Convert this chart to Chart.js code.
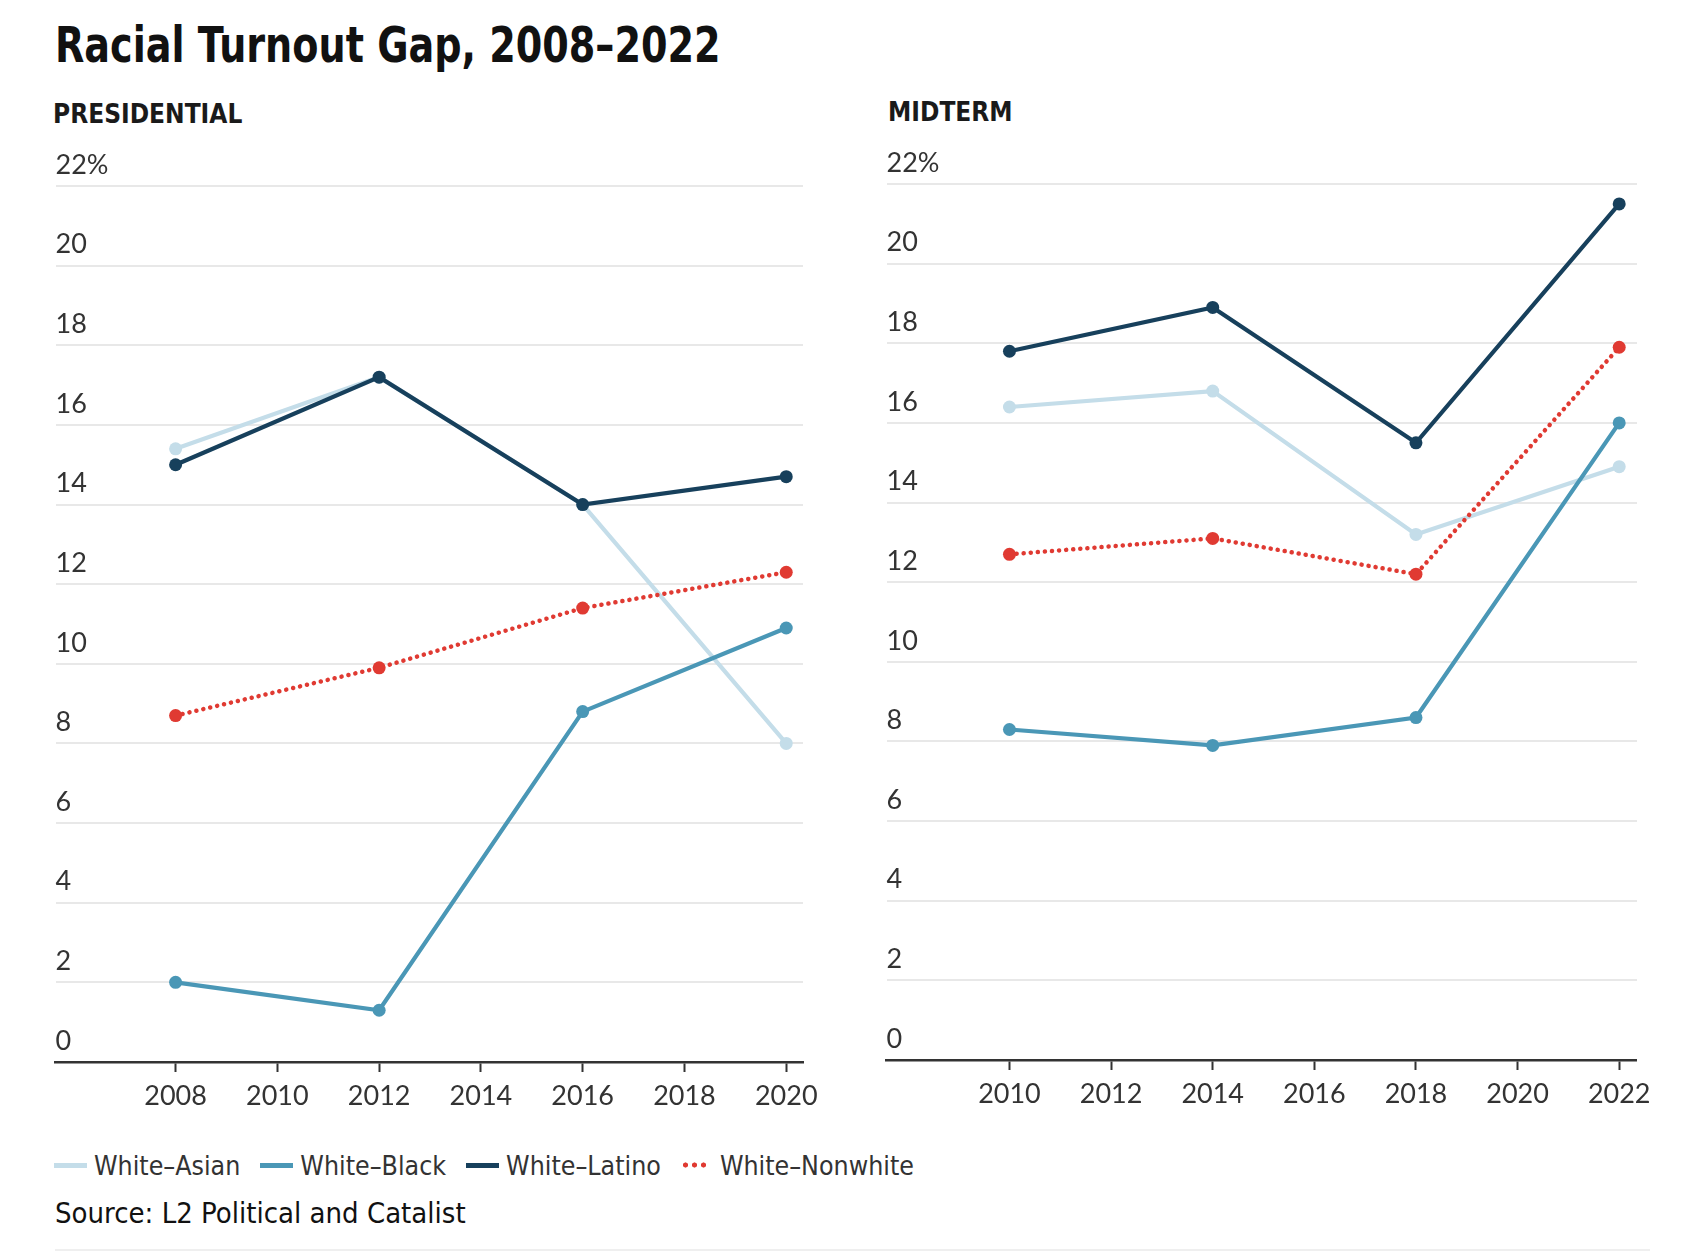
<!DOCTYPE html>
<html>
<head>
<meta charset="utf-8">
<script src="https://cdn.jsdelivr.net/npm/chart.js@4.4.1/dist/chart.umd.min.js"></script>
<style>
  html, body { margin: 0; padding: 0; background: #fff; }
  body { width: 1706px; height: 1252px; position: relative; overflow: hidden; }
  .narrow { font-family: "Liberation Sans Narrow", "DejaVu Sans Condensed", "Liberation Sans", sans-serif; }
  #title { position: absolute; left: 55px; top: 17px; font-size: 49px; font-weight: bold; color: #111; white-space: nowrap;
    transform: scaleX(0.865); transform-origin: left top; }
  .panel-title { position: absolute; font-size: 26px; font-weight: bold; color: #1a1a1a; white-space: nowrap; }
  .chart-box { position: absolute; }
  .chart-box canvas { display: block; }
  #legend { position: absolute; left: 54px; top: 1146px; height: 38px; display: flex; align-items: center; font-size: 26.5px; color: #333; white-space: nowrap; }
  #legend .item { display: flex; align-items: center; margin-right: 20px; }
  #legend .swatch { width: 33px; height: 5px; margin-right: 7px; }
  #legend .dots { width: 28px; height: 6px; margin-right: 11px;
    background-image: radial-gradient(circle, #e03a32 2.3px, transparent 2.8px);
    background-size: 9px 6px; background-repeat: repeat-x; }
  #source { position: absolute; left: 55px; top: 1196px; font-size: 29px; color: #111; white-space: nowrap; }
  #rule { position: absolute; left: 55px; top: 1249px; width: 1595px; height: 2px; background: #efefef; }
</style>
</head>
<body>
<div id="title" class="narrow">Racial Turnout Gap, 2008–2022</div>
<div class="panel-title narrow" style="left:53px; top:99px;">PRESIDENTIAL</div>
<div class="panel-title narrow" style="left:888px; top:97px;">MIDTERM</div>

<div class="chart-box" style="left:49px; top:140px; width:777px; height:1000px;">
  <canvas id="presChart" width="777" height="1000"></canvas>
</div>
<div class="chart-box" style="left:880px; top:138px; width:779px; height:1000px;">
  <canvas id="midChart" width="779" height="1000"></canvas>
</div>

<div id="legend" class="narrow">
  <div class="item"><span class="swatch" style="background:#c4dde9"></span>White–Asian</div>
  <div class="item"><span class="swatch" style="background:#4a97b6"></span>White–Black</div>
  <div class="item"><span class="swatch" style="background:#17405c"></span>White–Latino</div>
  <div class="item"><span class="dots"></span>White–Nonwhite</div>
</div>
<div id="source" class="narrow">Source: L2 Political and Catalist</div>
<div id="rule"></div>

<script>
const presYears = [2008, 2012, 2016, 2020];
const presAsian = [15.4, 17.2, 14.0, 8.0];
const presBlack = [2.0, 1.3, 8.8, 10.9];
const presLatino = [15.0, 17.2, 14.0, 14.7];
const presNonwhite = [8.7, 9.9, 11.4, 12.3];

const midYears = [2010, 2014, 2018, 2022];
const midAsian = [16.4, 16.8, 13.2, 14.9];
const midBlack = [8.3, 7.9, 8.6, 16.0];
const midLatino = [17.8, 18.9, 15.5, 21.5];
const midNonwhite = [12.7, 13.1, 12.2, 17.9];

const presTicks = [2008, 2010, 2012, 2014, 2016, 2018, 2020];
const midTicks = [2010, 2012, 2014, 2016, 2018, 2020, 2022];
const yTicks = [0, 2, 4, 6, 8, 10, 12, 14, 16, 18, 20, 22];

const COLORS = {
    asian: '#c4dde9',
    black: '#4a97b6',
    latino: '#17405c',
    nonwhite: '#e03a32',
};

const TICK_FONT = { family: 'Lato, "Open Sans", sans-serif', size: 27 };

function toPoints(years, values) {
    return years.map((year, i) => ({ x: year, y: values[i] }));
}

function makeDataset(label, years, values, color, order, dotted) {
    return {
        label: label,
        data: toPoints(years, values),
        borderColor: color,
        backgroundColor: color,
        borderWidth: dotted ? 4.5 : 4.2,
        borderDash: dotted ? [0.1, 7] : [],
        borderCapStyle: dotted ? 'round' : 'butt',
        pointRadius: 6.5,
        pointHoverRadius: 6.5,
        pointBorderWidth: 0,
        tension: 0,
        order: order,
        clip: false,
    };
}

function buildChart(canvasId, years, series, tickYears, xMin, xMax) {
    const ctx = document.getElementById(canvasId).getContext('2d');
    return new Chart(ctx, {
        type: 'line',
        data: {
            datasets: [
                makeDataset('White–Asian', years, series.asian, COLORS.asian, 4, false),
                makeDataset('White–Black', years, series.black, COLORS.black, 3, false),
                makeDataset('White–Latino', years, series.latino, COLORS.latino, 2, false),
                makeDataset('White–Nonwhite', years, series.nonwhite, COLORS.nonwhite, 1, true),
            ],
        },
        options: {
            responsive: false,
            animation: false,
            devicePixelRatio: 1,
            layout: {
                padding: { top: 46, right: 20, bottom: 0, left: 0 },
            },
            plugins: {
                legend: { display: false },
                tooltip: { enabled: false },
            },
            scales: {
                x: {
                    type: 'linear',
                    min: xMin,
                    max: xMax,
                    afterBuildTicks: (scale) => {
                        scale.ticks = tickYears.map((v) => ({ value: v }));
                    },
                    afterFit: (scale) => {
                        scale.height = 78;
                    },
                    grid: {
                        drawOnChartArea: false,
                        drawTicks: true,
                        tickLength: 10,
                        tickColor: '#333',
                        tickWidth: 2,
                    },
                    border: { display: true, color: '#333', width: 2.5 },
                    ticks: {
                        color: '#333',
                        font: TICK_FONT,
                        padding: 8,
                        maxRotation: 0,
                        autoSkip: false,
                        callback: (v) => String(v),
                    },
                },
                y: {
                    min: 0,
                    max: 22,
                    afterBuildTicks: (scale) => {
                        scale.ticks = yTicks.map((v) => ({ value: v }));
                    },
                    afterFit: (scale) => {
                        scale.width = 0;
                    },
                    grid: {
                        color: '#e8e8e8',
                        lineWidth: 2,
                        drawTicks: false,
                    },
                    border: { display: false },
                    ticks: {
                        mirror: true,
                        padding: 0,
                        labelOffset: -21,
                        color: '#333',
                        font: TICK_FONT,
                        callback: (v) => (v === 22 ? '22%' : String(v)),
                    },
                },
            },
        },
    });
}

buildChart('presChart', presYears, {
    asian: presAsian,
    black: presBlack,
    latino: presLatino,
    nonwhite: presNonwhite,
}, presTicks, 2005.64, 2020.33);

buildChart('midChart', midYears, {
    asian: midAsian,
    black: midBlack,
    latino: midLatino,
    nonwhite: midNonwhite,
}, midTicks, 2007.58, 2022.35);
</script>
</body>
</html>
